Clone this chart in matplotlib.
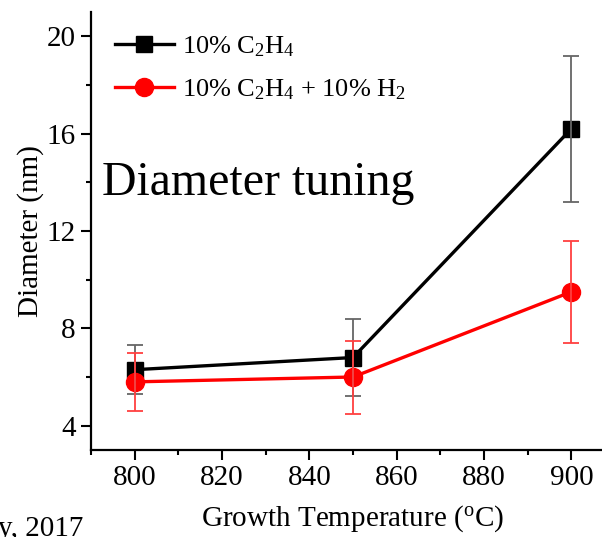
import matplotlib
matplotlib.use("Agg")
import matplotlib.pyplot as plt
from matplotlib.ticker import MultipleLocator

plt.rcParams["font.family"] = ["Liberation Serif", "DejaVu Serif"]
plt.rcParams["mathtext.fontset"] = "custom"
plt.rcParams["mathtext.rm"] = "Liberation Serif"
plt.rcParams["mathtext.it"] = "Liberation Serif:italic"

temps = [800, 850, 900]
d_c2h4 = [6.3, 6.8, 16.2]
err_c2h4 = [1.0, 1.6, 3.0]
d_c2h4_h2 = [5.8, 6.0, 9.5]
err_c2h4_h2 = [1.2, 1.5, 2.1]

label_c2h4 = r"10% C$_2$H$_4$"
label_c2h4_h2 = r"10% C$_2$H$_4$ + 10% H$_2$"

fig = plt.figure(figsize=(6.02, 5.37), dpi=100)
ax = fig.add_axes([91 / 602, 87 / 537, 524 / 602, 438 / 537])

# lines with markers
ax.plot(temps, d_c2h4, color="black", lw=2.4, marker="s", ms=11.5,
        label=label_c2h4, zorder=3)
ax.plot(temps, d_c2h4_h2, color="red", lw=2.4, marker="o", ms=13,
        label=label_c2h4_h2, zorder=3)

# error bars drawn on top
ax.errorbar(temps, d_c2h4, yerr=err_c2h4, fmt="none", ecolor="#666666",
            elinewidth=1.3, capsize=6, capthick=1.3, zorder=4)
ax.errorbar(temps, d_c2h4_h2, yerr=err_c2h4_h2, fmt="none", ecolor="#ff4040",
            elinewidth=1.3, capsize=6, capthick=1.3, zorder=4)

ax.set_xlim(790, 910)
ax.set_ylim(3, 21)
ax.xaxis.set_major_locator(MultipleLocator(20))
ax.xaxis.set_minor_locator(MultipleLocator(10))
ax.yaxis.set_major_locator(MultipleLocator(4))
ax.yaxis.set_minor_locator(MultipleLocator(2))

for side in ["top", "right"]:
    ax.spines[side].set_visible(False)
for side in ["left", "bottom"]:
    ax.spines[side].set_linewidth(1.6)

ax.tick_params(which="major", direction="out", length=7, width=1.5,
               labelsize=21, pad=4)
ax.tick_params(which="minor", direction="out", length=3.5, width=1.5)

ax.set_xlabel(r"Growth Temperature ($^{\mathrm{o}}$C)", fontsize=21, labelpad=9)
ax.set_ylabel("Diameter (nm)", fontsize=21, labelpad=2)

ax.legend(loc="upper left", fontsize=19, frameon=False,
          bbox_to_anchor=(13 / 524, 1 - 12 / 438), handlelength=2.25,
          handletextpad=0.3, labelspacing=0.68, borderaxespad=0.0)

fig.text(102 / 602, 1 - 195 / 537, "Diameter tuning", fontsize=34.5,
         va="baseline", ha="left")

fig.text(83 / 602, 1 / 537, "y, 2017", fontsize=21, ha="right", va="baseline")

fig.savefig("out.png", dpi=100)
